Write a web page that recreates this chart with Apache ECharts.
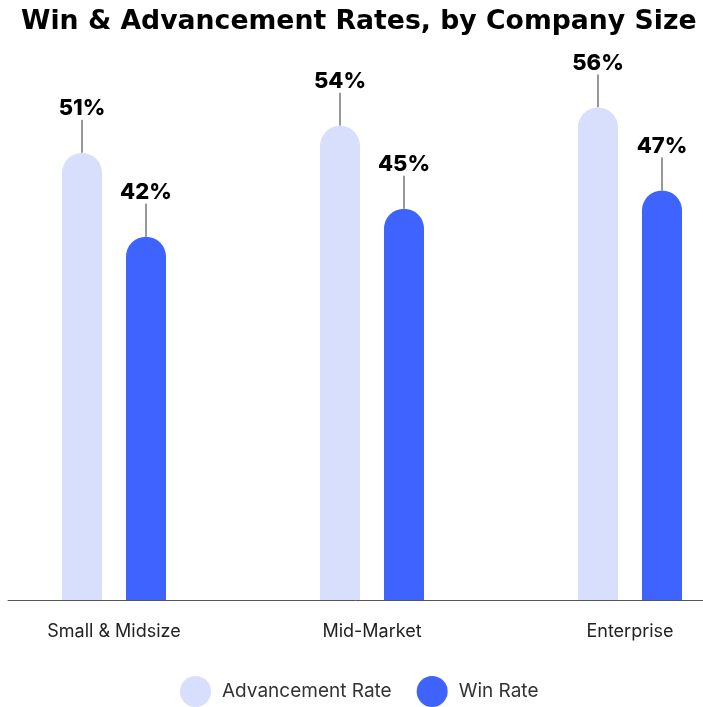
<!DOCTYPE html>
<html>
<head>
<meta charset="utf-8">
<script src="https://cdn.jsdelivr.net/npm/echarts@6/dist/echarts.min.js"></script>
<style>html,body{margin:0;padding:0;background:#fff}#c{width:703px;height:707px}</style>
</head>
<body>
<div id="c"></div>
<script>
const categories = ['Small & Midsize', 'Mid-Market', 'Enterprise'];
const advancementRate = [51.2, 54.3, 56.4];
const winRate = [41.6, 44.8, 46.9];
const seriesNames = ['Advancement Rate', 'Win Rate'];
const titleText = 'Win & Advancement Rates, by Company Size';

const FONT = 'Inter';
const chart = echarts.init(document.getElementById('c'), null, {renderer: 'canvas'});
const labelCfg = {
  show: true,
  position: 'top',
  distance: 0,
  padding: [0, 0, 10, 0],
  formatter: p => Math.round(p.value) + '%',
  fontFamily: FONT,
  fontWeight: 800,
  fontSize: 22,
  color: '#000'
};
chart.setOption({
  animation: false,
  title: {
    text: titleText,
    left: 16,
    top: 4,
    textStyle: {fontFamily: 'DejaVu Sans', fontWeight: 'bold', fontSize: 26.7, color: '#000'}
  },
  legend: {
    data: seriesNames,
    left: 180,
    top: 676,
    icon: 'circle',
    itemWidth: 31,
    itemHeight: 31,
    itemGap: 25,
    padding: 0,
    textStyle: {fontFamily: FONT, fontSize: 19, color: '#333', padding: [0, 0, 0, 6]}
  },
  grid: [
    {left: -15, right: -56, top: 76, height: 524, outerBoundsMode: 'none'},
    {left: 8, right: 0, top: 76, height: 524, outerBoundsMode: 'none'}
  ],
  xAxis: [
    {
      type: 'category', data: categories, gridIndex: 0,
      axisLine: {show: false}, axisTick: {show: false},
      axisLabel: {fontFamily: FONT, fontSize: 18, color: '#222', margin: 23}
    },
    {
      type: 'category', data: categories, gridIndex: 1,
      axisLine: {show: true, lineStyle: {color: '#555', width: 1}},
      axisTick: {show: false}, axisLabel: {show: false}
    }
  ],
  yAxis: [
    {type: 'value', min: 0, max: 60, gridIndex: 0, show: false},
    {type: 'value', min: 0, max: 60, gridIndex: 1, show: false}
  ],
  series: [
    {
      name: seriesNames[0], type: 'bar', data: advancementRate,
      barWidth: 40, barGap: '60%',
      itemStyle: {color: '#D7DFFD', borderRadius: [20, 20, 0, 0]},
      label: labelCfg,
      labelLayout: {dy: -23},
      labelLine: {show: true, lineStyle: {color: '#333', width: 1}}
    },
    {
      name: seriesNames[1], type: 'bar', data: winRate,
      barWidth: 40, barGap: '60%',
      itemStyle: {color: '#3E63FF', borderRadius: [20, 20, 0, 0]},
      label: labelCfg,
      labelLayout: {dy: -23},
      labelLine: {show: true, lineStyle: {color: '#333', width: 1}}
    }
  ]
});
</script>
</body>
</html>
